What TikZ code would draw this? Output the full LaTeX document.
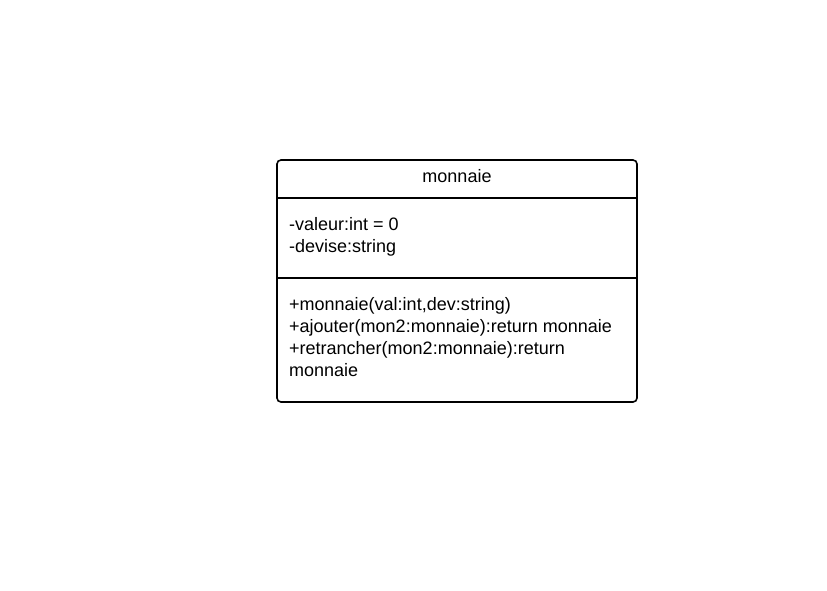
\documentclass[tikz,border=0pt]{standalone}
\usepackage{fontspec}
\setmainfont{Liberation Sans}
\begin{document}
\begin{tikzpicture}[x=1pt,y=-1pt,
  umltext/.style={font=\fontsize{18}{22}\selectfont, inner sep=0pt, anchor=base west, text=black},
  boxline/.style={draw=black, line width=1.6pt}]
\useasboundingbox (0,0) rectangle (827,590);
\draw[boxline, rounded corners=4pt] (277,160) rectangle (637,402);
\coordinate (d1l) at (277,198);
\coordinate (d1r) at (637,198);
\coordinate (d2l) at (277,278);
\coordinate (d2r) at (637,278);
\draw[boxline] (d1l) -- (d1r);
\draw[boxline] (d2l) -- (d2r);
\node[umltext, anchor=base] (title) at (457,182) {monnaie};
\node[umltext] (a1) at (289,230) {-valeur:int = 0};
\node[umltext] (a2) at (289,252) {-devise:string};
\node[umltext] (m1) at (289,310.5) {+monnaie(val:int,dev:string)};
\node[umltext] (m2) at (289,332.5) {+ajouter(mon2:monnaie):return monnaie};
\node[umltext] (m3) at (289,354) {+retrancher(mon2:monnaie):return};
\node[umltext] (m4) at (289,376) {monnaie};
\end{tikzpicture}
\end{document}
